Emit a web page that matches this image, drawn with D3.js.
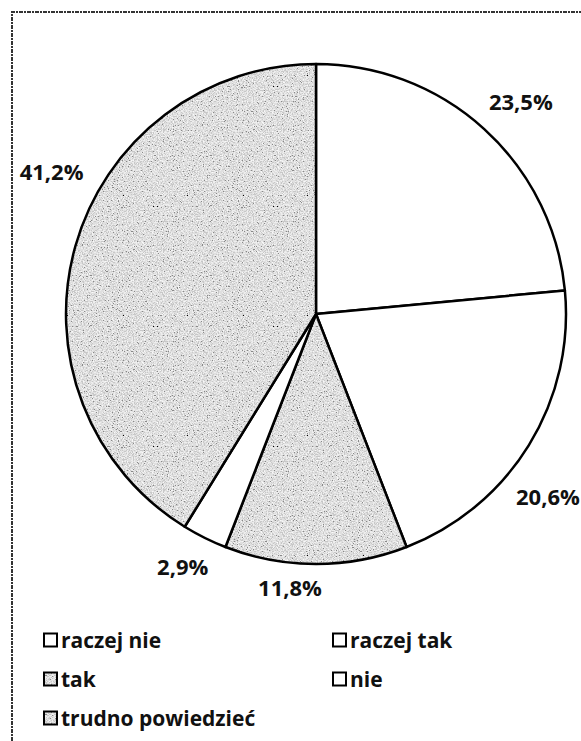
<!DOCTYPE html>
<html>
<head>
<meta charset="utf-8">
<script src="https://cdn.jsdelivr.net/npm/d3@7"></script>
<style>
  body { margin: 0; background: #fff; }
  svg { display: block; }
</style>
</head>
<body>
<div id="chart"></div>
<script>
// data, clockwise from 12 o'clock
const categories = ["raczej nie", "raczej tak", "tak", "nie", "trudno powiedzieć"];
const values = [23.5, 20.6, 11.8, 2.9, 41.2];
const valueLabels = ["23,5%", "20,6%", "11,8%", "2,9%", "41,2%"];
const shaded = [false, false, true, false, true];
// legend reading order (two columns)
const legendOrder = ["raczej nie", "raczej tak", "tak", "nie", "trudno powiedzieć"];

const width = 581, height = 741;
const cx = 316, cy = 314, radius = 250;

// label nudges (px) to mimic Excel "best fit"
const labelNudge = [[8, 4], [-17, 29], [-26, -18], [-3, -9], [17, -62]];

const svg = d3.select("#chart")
  .append("svg")
    .attr("width", width)
    .attr("height", height);

// speckle texture for shaded slices
const defs = svg.append("defs");
const noise = defs.append("filter")
    .attr("id", "noise")
    .attr("x", 0).attr("y", 0).attr("width", "100%").attr("height", "100%");
noise.append("feTurbulence")
    .attr("type", "fractalNoise")
    .attr("baseFrequency", 0.8)
    .attr("numOctaves", 2)
    .attr("seed", 7)
    .attr("result", "t");
noise.append("feColorMatrix")
    .attr("type", "matrix")
    .attr("values", "1 0 0 0 0  1 0 0 0 0  1 0 0 0 0  0 0 0 0 1");
const ct = noise.append("feComponentTransfer");
["feFuncR", "feFuncG", "feFuncB"].forEach(f =>
  ct.append(f).attr("type", "discrete").attr("tableValues", "0 0.25 0.58 0.74 0.86 0.95 1"));

const pat = defs.append("pattern")
    .attr("id", "speck")
    .attr("patternUnits", "userSpaceOnUse")
    .attr("width", 120).attr("height", 120);
pat.append("rect")
    .attr("width", 120).attr("height", 120)
    .attr("filter", "url(#noise)");

// scan frame
svg.append("path")
    .attr("d", `M12,${height} V12 H${width}`)
    .attr("fill", "none")
    .attr("stroke", "#333")
    .attr("stroke-width", 2)
    .attr("stroke-dasharray", "4 1 2 1");

const pie = d3.pie().sort(null).value(d => d)(values);
const arc = d3.arc().innerRadius(0).outerRadius(radius);
const labelArc = d3.arc().innerRadius(radius * 1.17).outerRadius(radius * 1.17);

const g = svg.append("g").attr("transform", `translate(${cx},${cy})`);

g.selectAll("path")
  .data(pie)
  .join("path")
    .attr("d", arc)
    .attr("fill", (d, i) => shaded[i] ? "url(#speck)" : "#fff")
    .attr("stroke", "#000")
    .attr("stroke-width", 2.5)
    .attr("stroke-linejoin", "round");

g.selectAll("text")
  .data(pie)
  .join("text")
    .attr("x", (d, i) => labelArc.centroid(d)[0] + labelNudge[i][0])
    .attr("y", (d, i) => labelArc.centroid(d)[1] + labelNudge[i][1])
    .attr("text-anchor", "middle")
    .attr("dy", "0.36em")
    .style("font-family", "'Open Sans', sans-serif")
    .style("font-weight", 700)
    .style("font-size", "22px")
    .style("fill", "#111")
    .text((d, i) => valueLabels[i]);

// legend
const colX = [44, 333], rowY = [640, 679, 718];
const legend = svg.append("g");
const items = legend.selectAll("g")
  .data(legendOrder)
  .join("g")
    .attr("transform", (d, i) => `translate(${colX[i % 2]},${rowY[Math.floor(i / 2)]})`);
items.append("rect")
    .attr("x", 0).attr("y", -6.5)
    .attr("width", 13).attr("height", 13)
    .attr("fill", d => shaded[categories.indexOf(d)] ? "url(#speck)" : "#fff")
    .attr("stroke", "#000")
    .attr("stroke-width", 2);
items.append("text")
    .attr("x", 17)
    .attr("dy", "0.36em")
    .style("font-family", "'Open Sans', sans-serif")
    .style("font-weight", 700)
    .style("font-size", "21px")
    .style("fill", "#111")
    .text(d => d);
</script>
</body>
</html>
